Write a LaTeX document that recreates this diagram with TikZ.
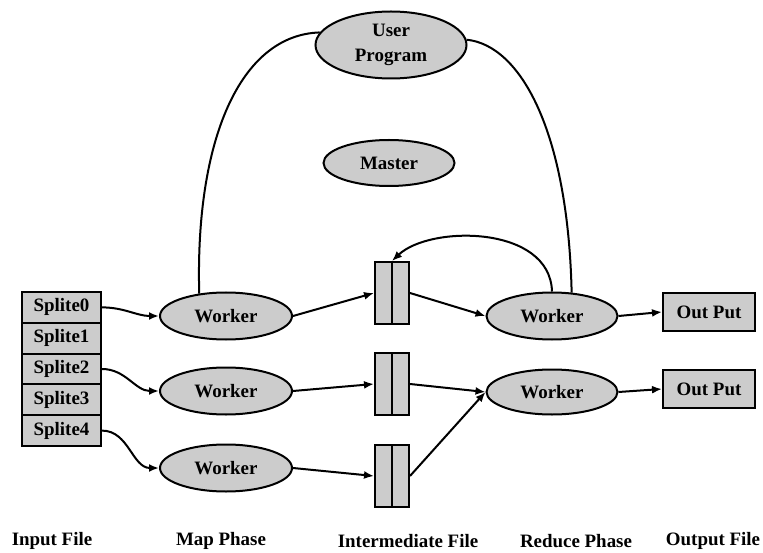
\documentclass[tikz,border=0pt]{standalone}
\usepackage{fontspec}
\setmainfont{Liberation Serif}[BoldFont={Liberation Serif Bold}]
\newfontfamily\labelfont{Liberation Serif}[BoldFont={Liberation Serif Bold}]
\usetikzlibrary{arrows.meta,shapes.geometric}

\tikzset{
  job/.style={ellipse, draw, line width=2bp, fill=black!20, inner sep=0pt,
    font=\labelfont\fontsize{19}{25}\selectfont\bfseries, align=center},
  worker/.style={job, minimum width=132bp, minimum height=47bp},
  split/.style={rectangle, draw, line width=2bp, fill=black!20, inner sep=0pt,
    minimum width=79bp, minimum height=30.8bp, font=\labelfont\fontsize{19}{21}\selectfont\bfseries},
  outbox/.style={split, minimum width=92bp, minimum height=38bp},
  imfile/.style={rectangle, draw, line width=2bp, fill=black!20,
    minimum width=34bp, minimum height=62bp},
  flow/.style={line width=2bp, -{Latex[length=10bp,width=8bp]}},
  link/.style={line width=2bp},
  phase/.style={font=\labelfont\fontsize{19}{21}\selectfont\bfseries}
}

\begin{document}
\begin{tikzpicture}[x=1bp, y=-1bp]
  \useasboundingbox (0,0) rectangle (763,553);

  % input splits
  \node[split] (s0) at (61.5, 307.4) {Splite0};
  \node[split] (s1) at (61.5, 338.2) {Splite1};
  \node[split] (s2) at (61.5, 369.0) {Splite2};
  \node[split] (s3) at (61.5, 399.8) {Splite3};
  \node[split] (s4) at (61.5, 430.6) {Splite4};

  % user program and master
  \node[job, minimum width=151bp, minimum height=67bp] (up) at (391, 45) {User\\Program};
  \node[job, minimum width=131bp, minimum height=46bp] (master) at (389, 163) {Master};

  % map phase
  \node[worker] (w1) at (226, 316) {Worker};
  \node[worker] (w2) at (226, 391) {Worker};
  \node[worker] (w3) at (226, 468) {Worker};

  % intermediate files
  \node[imfile] (f1) at (392, 293) {};
  \node[imfile] (f2) at (392, 384) {};
  \node[imfile] (f3) at (392, 476) {};
  \draw[link] (f1.north) -- (f1.south);
  \draw[link] (f2.north) -- (f2.south);
  \draw[link] (f3.north) -- (f3.south);

  % reduce phase
  \node[worker, minimum width=131bp] (r1) at (552, 316) {Worker};
  \node[worker, minimum width=131bp, minimum height=45bp] (r2) at (552, 392) {Worker};

  % output files
  \node[outbox] (o1) at (709, 312) {Out Put};
  \node[outbox] (o2) at (709, 389) {Out Put};

  % user program to workers
  \draw[link] (up.170) .. controls (240, 35) and (195, 140) .. (w1.140);
  \draw[link] (up.4) .. controls (520, 45) and (568, 130) .. (r1.50);

  % splits to map workers
  \draw[flow] (s0.east) to[out=0, in=180] (w1.west);
  \draw[flow] (s2.east) to[out=0, in=180] (w2.west);
  \draw[flow] (s4.east) to[out=0, in=180] (w3.west);

  % map workers to files
  \draw[flow] (w1.east) -- (f1.west);
  \draw[flow] (w2.east) -- (f2.west);
  \draw[flow] (w3.east) -- (f3.west);

  % files to reduce workers
  \draw[flow] (f1.east) -- (r1.west);
  \draw[flow] (f2.east) -- (r2.west);
  \draw[flow] (f3.east) -- (r2.west);
  \draw[flow] (r1.north) .. controls (550, 225) and (430, 225) .. (f1.north);

  % reduce workers to output
  \draw[flow] (r1.east) -- (o1.west);
  \draw[flow] (r2.east) -- (o2.west);

  % phase labels
  \node[phase] (lin) at (52, 541) {Input File};
  \node[phase] (lmap) at (221, 541) {Map Phase};
  \node[phase] (lmid) at (408, 541) {Intermediate File};
  \node[phase] (lred) at (576, 541) {Reduce Phase};
  \node[phase] (lout) at (713, 541) {Output File};
\end{tikzpicture}
\end{document}
